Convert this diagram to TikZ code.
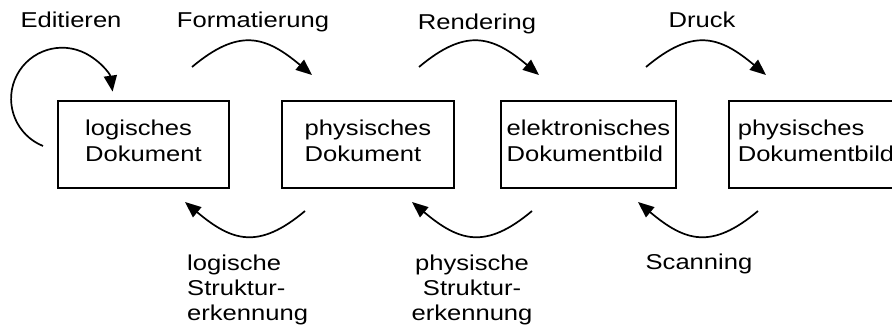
\documentclass[tikz,border=0pt]{standalone}
\usepackage{fontspec}
\setmainfont[FakeStretch=1.19]{Liberation Sans}
\usetikzlibrary{arrows.meta}
\begin{document}
\begin{tikzpicture}[x=1pt,y=1pt,
  font=\fontsize{21.5}{25.5}\selectfont,
  docbox/.style={draw, line width=1.7pt, minimum height=87pt, align=left,
    inner sep=0pt, execute at end node=\strut},
  flow/.style={line width=1.7pt, -{Triangle[length=16pt,width=13pt]}},
  lbl/.style={inner sep=0pt, anchor=base}]
\clip (0,0) rectangle (892,327);

% document stages
\node[docbox, minimum width=171pt] (b1) at (143.5,182.5) {logisches\\Dokument};
\node[docbox, minimum width=172pt] (b2) at (368,182.5) {physisches\\Dokument};
\node[docbox, minimum width=175pt] (b3) at (588.5,182.5) {elektronisches\\Dokumentbild};
\node[docbox, minimum width=174pt] (b4) at (816,182.5) {physisches\\Dokumentbild};

% end points of the transition arcs
\coordinate (e0) at (43,181);
\coordinate (f0) at (192,260);  \coordinate (f1) at (312,252);
\coordinate (r0) at (419,260);  \coordinate (r1) at (539,252);
\coordinate (d0) at (646,260);  \coordinate (d1) at (766,252);
\coordinate (l0) at (305,116);  \coordinate (l1) at (185,125);
\coordinate (p0) at (532,116);  \coordinate (p1) at (412,125);
\coordinate (s0) at (758,116);  \coordinate (s1) at (638,125);

% forward transitions
\draw[flow] (e0) arc[start angle=248, end angle=8, radius=51];
\draw[flow] (f0) to[out=40, in=140, looseness=1.3] (f1);
\draw[flow] (r0) to[out=40, in=140, looseness=1.3] (r1);
\draw[flow] (d0) to[out=40, in=140, looseness=1.3] (d1);

% backward transitions
\draw[flow] (l0) to[out=-140, in=-40, looseness=1.3] (l1);
\draw[flow] (p0) to[out=-140, in=-40, looseness=1.3] (p1);
\draw[flow] (s0) to[out=-140, in=-40, looseness=1.3] (s1);

% labels (multi-line labels are anchored at their last baseline)
\node[lbl] (t1) at (71,299) {Editieren};
\node[lbl] (t2) at (253,299) {Formatierung};
\node[lbl] (t3) at (477,297) {Rendering};
\node[lbl] (t4) at (702,299) {Druck};
\node[lbl, anchor=base west, align=left, font=\fontsize{21.5}{25}\selectfont]
  (t5) at (187,7) {logische\\Struktur-\\erkennung};
\node[lbl, align=center, font=\fontsize{21.5}{25}\selectfont]
  (t6) at (472,7) {physische\\Struktur-\\erkennung};
\node[lbl] (t7) at (699,58) {Scanning};
\end{tikzpicture}
\end{document}
